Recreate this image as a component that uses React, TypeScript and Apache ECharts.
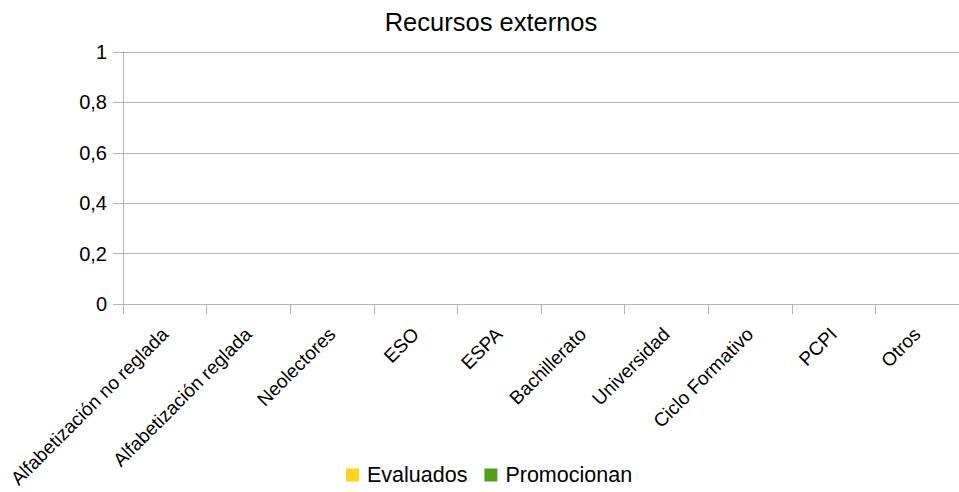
import React, { useEffect, useRef } from "react";
import * as echarts from "echarts";

const categories = [
  "Alfabetización no reglada",
  "Alfabetización reglada",
  "Neolectores",
  "ESO",
  "ESPA",
  "Bachillerato",
  "Universidad",
  "Ciclo Formativo",
  "PCPI",
  "Otros",
];
const evaluados = [0, 0, 0, 0, 0, 0, 0, 0, 0, 0];
const promocionan = [0, 0, 0, 0, 0, 0, 0, 0, 0, 0];
const yTicks = [0, 0.2, 0.4, 0.6, 0.8, 1];

const FONT = "'Liberation Sans', Arial, sans-serif";

export default function App() {
  const ref = useRef<HTMLDivElement>(null);
  useEffect(() => {
    document.body.style.margin = "0";
    const chart = echarts.init(ref.current!, null, { renderer: "svg" });
    chart.setOption({
      animation: false,
      backgroundColor: "#ffffff",
      textStyle: { fontFamily: FONT },
      title: {
        text: "Recursos externos",
        left: 486,
        top: 4,
        textAlign: "center",
        textStyle: { fontFamily: FONT, fontSize: 25.5, fontWeight: "normal", color: "#000" },
      },
      legend: {
        left: 346,
        top: 464,
        padding: 0,
        icon: "rect",
        itemWidth: 13,
        itemHeight: 13,
        itemGap: 17,
        textStyle: { fontFamily: FONT, fontSize: 21.5, color: "#000", padding: [0, 0, 0, 3] },
        data: ["Evaluados", "Promocionan"],
      },
      grid: { left: 123, right: -10, top: 52, bottom: 188, containLabel: false },
      xAxis: {
        type: "category",
        data: categories,
        boundaryGap: true,
        axisLine: { lineStyle: { color: "#b3b3b3", width: 1 } },
        axisTick: { show: true, length: 10, alignWithLabel: false, lineStyle: { color: "#b3b3b3" } },
        axisLabel: {
          rotate: 45,
          interval: 0,
          margin: 27,
          fontFamily: FONT,
          fontSize: 19,
          color: "#000",
        },
      },
      yAxis: {
        type: "value",
        min: yTicks[0],
        max: yTicks[yTicks.length - 1],
        interval: 0.2,
        axisLine: { show: true, lineStyle: { color: "#b3b3b3", width: 1 } },
        axisTick: { show: true, length: 10, lineStyle: { color: "#b3b3b3" } },
        splitLine: { show: true, lineStyle: { color: "#b3b3b3", width: 1 } },
        axisLabel: {
          margin: 16,
          fontFamily: FONT,
          fontSize: 20,
          color: "#000",
          formatter: (v: number) => String(Math.round(v * 10) / 10).replace(".", ","),
        },
      },
      series: [
        { name: "Evaluados", type: "bar", data: evaluados, itemStyle: { color: "#ffd320" } },
        { name: "Promocionan", type: "bar", data: promocionan, itemStyle: { color: "#579d1c" } },
      ],
    });
    return () => chart.dispose();
  }, []);
  return (
    <div
      ref={ref}
      style={{ position: "absolute", left: 0, top: 0, width: 959, height: 492 }}
    />
  );
}
